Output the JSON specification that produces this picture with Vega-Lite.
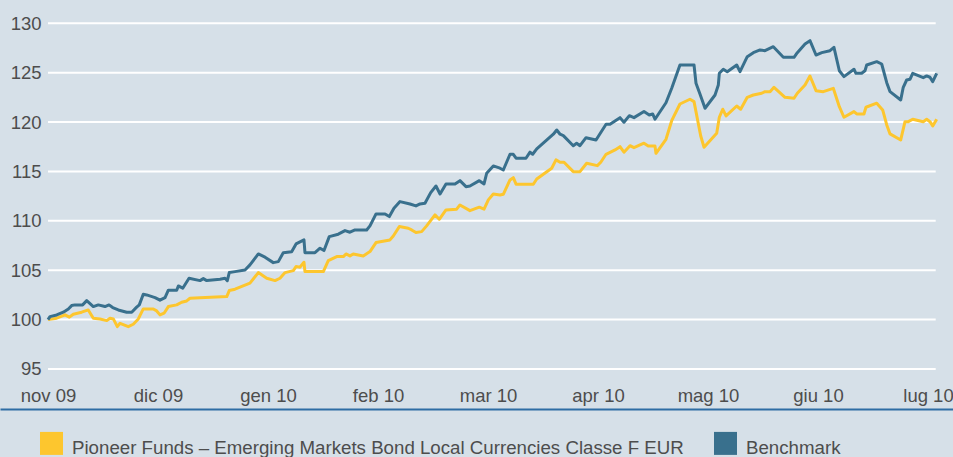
{
  "$schema": "https://vega.github.io/schema/vega-lite/v6.json",
  "width": 953,
  "height": 457,
  "padding": 0,
  "autosize": {"type": "none"},
  "background": "#d6e0e8",
  "config": {
    "view": {"stroke": null},
    "font": "Liberation Sans, sans-serif"
  },
  "datasets": {
    "grid": [{"y": 95}, {"y": 100}, {"y": 105}, {"y": 110}, {"y": 115}, {"y": 120}, {"y": 125}, {"y": 130}],
    "fund": [{"m":0,"v":100},{"m":0.079,"v":100.14},{"m":0.155,"v":100.48},{"m":0.194,"v":100.25},{"m":0.23,"v":100.55},{"m":0.306,"v":100.75},{"m":0.366,"v":100.98},{"m":0.412,"v":100.14},{"m":0.473,"v":100.07},{"m":0.534,"v":99.9},{"m":0.564,"v":100.14},{"m":0.594,"v":100.07},{"m":0.63,"v":99.29},{"m":0.655,"v":99.63},{"m":0.73,"v":99.29},{"m":0.775,"v":99.53},{"m":0.821,"v":100.07},{"m":0.866,"v":101.08},{"m":0.957,"v":101.08},{"m":0.988,"v":100.88},{"m":1.018,"v":100.48},{"m":1.055,"v":100.65},{"m":1.094,"v":101.32},{"m":1.17,"v":101.49},{"m":1.215,"v":101.76},{"m":1.261,"v":101.89},{"m":1.291,"v":102.16},{"m":1.382,"v":102.22},{"m":1.625,"v":102.33},{"m":1.648,"v":102.94},{"m":1.7,"v":103.08},{"m":1.836,"v":103.69},{"m":1.912,"v":104.76},{"m":1.988,"v":104.19},{"m":2.064,"v":103.95},{"m":2.109,"v":104.19},{"m":2.155,"v":104.76},{"m":2.23,"v":104.96},{"m":2.255,"v":105.37},{"m":2.291,"v":105.31},{"m":2.327,"v":105.81},{"m":2.336,"v":104.86},{"m":2.503,"v":104.86},{"m":2.548,"v":105.97},{"m":2.625,"v":106.38},{"m":2.685,"v":106.38},{"m":2.709,"v":106.65},{"m":2.745,"v":106.45},{"m":2.775,"v":106.65},{"m":2.866,"v":106.45},{"m":2.927,"v":106.89},{"m":2.982,"v":107.8},{"m":3.109,"v":108.07},{"m":3.139,"v":108.47},{"m":3.194,"v":109.42},{"m":3.275,"v":109.25},{"m":3.306,"v":109.08},{"m":3.345,"v":108.81},{"m":3.397,"v":108.91},{"m":3.442,"v":109.49},{"m":3.518,"v":110.6},{"m":3.557,"v":110.16},{"m":3.618,"v":111.11},{"m":3.715,"v":111.18},{"m":3.745,"v":111.61},{"m":3.836,"v":111.03},{"m":3.921,"v":111.38},{"m":3.964,"v":111.18},{"m":4.003,"v":112.12},{"m":4.048,"v":112.72},{"m":4.109,"v":112.62},{"m":4.139,"v":112.69},{"m":4.2,"v":114.14},{"m":4.23,"v":114.37},{"m":4.255,"v":113.71},{"m":4.412,"v":113.71},{"m":4.443,"v":114.24},{"m":4.579,"v":115.33},{"m":4.618,"v":116.17},{"m":4.655,"v":115.93},{"m":4.691,"v":115.93},{"m":4.775,"v":114.98},{"m":4.836,"v":114.98},{"m":4.897,"v":115.83},{"m":4.994,"v":115.59},{"m":5.025,"v":115.93},{"m":5.073,"v":116.74},{"m":5.155,"v":117.18},{"m":5.2,"v":117.51},{"m":5.236,"v":116.95},{"m":5.291,"v":117.61},{"m":5.327,"v":117.41},{"m":5.382,"v":117.68},{"m":5.418,"v":117.86},{"m":5.457,"v":117.58},{"m":5.518,"v":117.58},{"m":5.527,"v":116.84},{"m":5.618,"v":118.26},{"m":5.67,"v":120.14},{"m":5.745,"v":121.83},{"m":5.836,"v":122.31},{"m":5.873,"v":122.07},{"m":5.934,"v":118.59},{"m":5.964,"v":117.45},{"m":6.079,"v":118.87},{"m":6.103,"v":120.49},{"m":6.134,"v":121.3},{"m":6.164,"v":120.62},{"m":6.261,"v":121.63},{"m":6.297,"v":121.3},{"m":6.357,"v":122.51},{"m":6.412,"v":122.74},{"m":6.488,"v":122.92},{"m":6.518,"v":123.08},{"m":6.564,"v":123.08},{"m":6.6,"v":123.52},{"m":6.7,"v":122.51},{"m":6.782,"v":122.41},{"m":6.812,"v":122.92},{"m":6.882,"v":123.76},{"m":6.927,"v":124.67},{"m":6.982,"v":123.18},{"m":7.048,"v":123.08},{"m":7.139,"v":123.42},{"m":7.194,"v":121.56},{"m":7.236,"v":120.49},{"m":7.327,"v":121.06},{"m":7.352,"v":120.82},{"m":7.418,"v":120.82},{"m":7.436,"v":121.5},{"m":7.534,"v":121.91},{"m":7.588,"v":121.23},{"m":7.625,"v":119.71},{"m":7.655,"v":118.8},{"m":7.752,"v":118.19},{"m":7.791,"v":120.04},{"m":7.821,"v":120.04},{"m":7.861,"v":120.29},{"m":7.957,"v":120.04},{"m":7.988,"v":120.29},{"m":8.018,"v":120.04},{"m":8.043,"v":119.61},{"m":8.079,"v":120.29}],
    "bench": [{"m":0,"v":100},{"m":0.018,"v":100.3},{"m":0.079,"v":100.47},{"m":0.139,"v":100.75},{"m":0.185,"v":101.08},{"m":0.215,"v":101.42},{"m":0.245,"v":101.49},{"m":0.315,"v":101.49},{"m":0.352,"v":101.92},{"m":0.412,"v":101.32},{"m":0.457,"v":101.49},{"m":0.518,"v":101.32},{"m":0.555,"v":101.49},{"m":0.588,"v":101.22},{"m":0.639,"v":100.98},{"m":0.715,"v":100.75},{"m":0.761,"v":100.75},{"m":0.806,"v":101.26},{"m":0.83,"v":101.49},{"m":0.866,"v":102.57},{"m":0.897,"v":102.5},{"m":0.973,"v":102.23},{"m":1.018,"v":101.97},{"m":1.064,"v":102.23},{"m":1.094,"v":102.98},{"m":1.17,"v":102.98},{"m":1.185,"v":103.41},{"m":1.225,"v":103.18},{"m":1.282,"v":104.19},{"m":1.382,"v":103.95},{"m":1.412,"v":104.15},{"m":1.443,"v":103.95},{"m":1.564,"v":104.09},{"m":1.609,"v":104.19},{"m":1.63,"v":103.95},{"m":1.648,"v":104.76},{"m":1.7,"v":104.86},{"m":1.791,"v":105.03},{"m":1.836,"v":105.54},{"m":1.912,"v":106.65},{"m":1.973,"v":106.32},{"m":2.048,"v":105.77},{"m":2.094,"v":105.87},{"m":2.139,"v":106.78},{"m":2.215,"v":106.88},{"m":2.255,"v":107.66},{"m":2.327,"v":108.07},{"m":2.336,"v":106.78},{"m":2.427,"v":106.78},{"m":2.473,"v":107.23},{"m":2.509,"v":106.99},{"m":2.557,"v":108.4},{"m":2.639,"v":108.65},{"m":2.7,"v":109.01},{"m":2.745,"v":108.85},{"m":2.791,"v":109.08},{"m":2.897,"v":109.08},{"m":2.927,"v":109.49},{"m":2.982,"v":110.7},{"m":3.064,"v":110.7},{"m":3.103,"v":110.43},{"m":3.145,"v":111.28},{"m":3.2,"v":111.95},{"m":3.291,"v":111.71},{"m":3.345,"v":111.51},{"m":3.382,"v":111.71},{"m":3.427,"v":111.78},{"m":3.479,"v":112.86},{"m":3.527,"v":113.53},{"m":3.564,"v":112.72},{"m":3.618,"v":113.74},{"m":3.7,"v":113.74},{"m":3.745,"v":114.07},{"m":3.8,"v":113.46},{"m":3.836,"v":113.53},{"m":3.921,"v":114.07},{"m":3.964,"v":113.74},{"m":3.988,"v":114.82},{"m":4.048,"v":115.56},{"m":4.109,"v":115.33},{"m":4.139,"v":115.15},{"m":4.2,"v":116.74},{"m":4.23,"v":116.74},{"m":4.255,"v":116.34},{"m":4.345,"v":116.34},{"m":4.382,"v":116.95},{"m":4.406,"v":116.74},{"m":4.443,"v":117.28},{"m":4.594,"v":118.77},{"m":4.625,"v":119.2},{"m":4.655,"v":118.77},{"m":4.685,"v":118.63},{"m":4.775,"v":117.61},{"m":4.806,"v":117.86},{"m":4.836,"v":117.61},{"m":4.891,"v":118.42},{"m":4.982,"v":118.19},{"m":5.073,"v":119.78},{"m":5.109,"v":119.78},{"m":5.2,"v":120.45},{"m":5.236,"v":119.98},{"m":5.285,"v":120.65},{"m":5.327,"v":120.45},{"m":5.418,"v":121.07},{"m":5.466,"v":120.72},{"m":5.497,"v":120.82},{"m":5.518,"v":120.29},{"m":5.618,"v":121.96},{"m":5.67,"v":123.42},{"m":5.745,"v":125.78},{"m":5.873,"v":125.78},{"m":5.891,"v":123.93},{"m":5.927,"v":122.85},{"m":5.973,"v":121.4},{"m":6.064,"v":122.74},{"m":6.094,"v":123.76},{"m":6.103,"v":124.94},{"m":6.139,"v":125.35},{"m":6.175,"v":125.1},{"m":6.261,"v":125.78},{"m":6.291,"v":125.1},{"m":6.357,"v":126.62},{"m":6.412,"v":127.03},{"m":6.473,"v":127.3},{"m":6.518,"v":127.23},{"m":6.594,"v":127.63},{"m":6.685,"v":126.56},{"m":6.782,"v":126.56},{"m":6.812,"v":127.03},{"m":6.882,"v":127.91},{"m":6.927,"v":128.24},{"m":6.982,"v":126.79},{"m":7.034,"v":127.03},{"m":7.109,"v":127.23},{"m":7.145,"v":127.57},{"m":7.194,"v":125.2},{"m":7.236,"v":124.6},{"m":7.327,"v":125.35},{"m":7.345,"v":124.94},{"m":7.397,"v":124.94},{"m":7.427,"v":125.2},{"m":7.443,"v":125.78},{"m":7.534,"v":126.12},{"m":7.579,"v":125.88},{"m":7.625,"v":123.99},{"m":7.655,"v":123.08},{"m":7.752,"v":122.24},{"m":7.775,"v":123.52},{"m":7.806,"v":124.26},{"m":7.836,"v":124.33},{"m":7.861,"v":124.94},{"m":7.957,"v":124.5},{"m":7.988,"v":124.67},{"m":8.018,"v":124.54},{"m":8.043,"v":124.09},{"m":8.079,"v":124.94}]
  },
  "layer": [
    {
      "data": {"name": "grid"},
      "mark": {"type": "rule", "color": "#ffffff", "strokeWidth": 2},
      "encoding": {
        "y": {
          "field": "y", "type": "quantitative",
          "scale": {"domain": [86.09, 132.36], "nice": false, "zero": false},
          "axis": {
            "title": null, "values": [95, 100, 105, 110, 115, 120, 125, 130],
            "domain": false, "ticks": false, "tickSize": 0, "grid": false,
            "labelAlign": "right", "labelBaseline": "middle", "labelPadding": -41,
            "labelFontSize": 18.5, "labelColor": "#4d4d4d", "labelFont": "Liberation Sans, sans-serif"
          }
        },
        "x": {
          "datum": 0, "type": "quantitative",
          "scale": {"domain": [-0.4364, 8.2273], "nice": false, "zero": false},
          "axis": {
            "title": null, "values": [0, 1, 2, 3, 4, 5, 6, 7, 8],
            "labelExpr": "['nov 09','dic 09','gen 10','feb 10','mar 10','apr 10','mag 10','giu 10','lug 10'][datum.value]",
            "offset": -48, "domain": true, "domainColor": "#2e6da4", "domainWidth": 2,
            "ticks": false, "tickSize": 0, "grid": false,
            "labelBaseline": "middle", "labelPadding": -13.5, "labelFlush": false, "labelOverlap": false, "labelBound": false,
            "labelFontSize": 18.5, "labelColor": "#4d4d4d", "labelFont": "Liberation Sans, sans-serif"
          }
        },
        "x2": {"datum": 8.07}
      }
    },
    {
      "data": {"name": "fund"},
      "mark": {"type": "line", "strokeWidth": 3, "strokeJoin": "round"},
      "encoding": {
        "x": {"field": "m", "type": "quantitative"},
        "y": {"field": "v", "type": "quantitative"},
        "color": {
          "datum": "Pioneer Funds – Emerging Markets Bond Local Currencies Classe F EUR",
          "type": "nominal",
          "scale": {
            "domain": ["Pioneer Funds – Emerging Markets Bond Local Currencies Classe F EUR", "Benchmark"],
            "range": ["#fdc62e", "#39708d"]
          },
          "legend": {
            "title": null, "orient": "none", "direction": "horizontal",
            "legendX": 40, "legendY": 431.5, "padding": 0,
            "symbolType": "square", "symbolSize": 529, "symbolStrokeWidth": 0,
            "labelOffset": 9, "columnPadding": 30, "labelLimit": 0,
            "labelFontSize": 18.7, "labelColor": "#4d4d4d", "labelFont": "Liberation Sans, sans-serif",
            "labelBaseline": "middle",
            "encode": {
              "symbols": {"update": {"fill": {"scale": "color", "field": "value"}, "stroke": {"value": "transparent"}, "shape": {"value": "square"}, "opacity": {"value": 1}}},
              "labels": {"update": {"dy": {"value": 5}}}
            }
          }
        }
      }
    },
    {
      "data": {"name": "bench"},
      "mark": {"type": "line", "strokeWidth": 3, "strokeJoin": "round"},
      "encoding": {
        "x": {"field": "m", "type": "quantitative"},
        "y": {"field": "v", "type": "quantitative"},
        "color": {"datum": "Benchmark", "type": "nominal"}
      }
    }
  ]
}
